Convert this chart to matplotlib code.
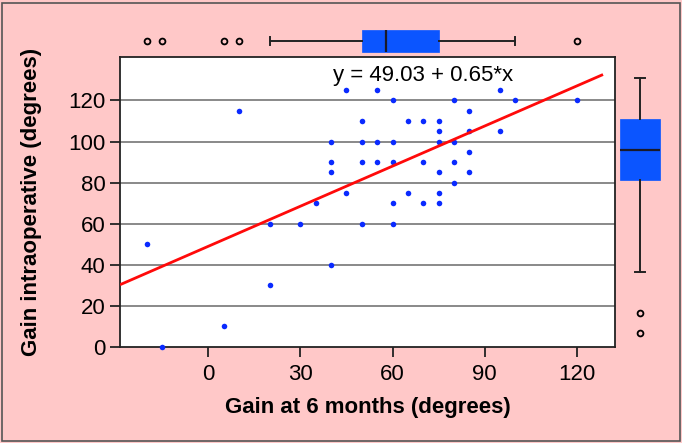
import matplotlib
matplotlib.use('Agg')
import matplotlib.pyplot as plt
from matplotlib.patches import Rectangle

# ---- data ----
x_6months = [-20, -15, 5, 10, 20, 20, 30, 35, 40, 40, 40, 40, 45, 45, 50, 50, 50, 50,
             55, 55, 55, 60, 60, 60, 60, 60, 65, 65, 70, 70, 70, 75, 75, 75, 75, 75, 75,
             80, 80, 80, 80, 85, 85, 85, 85, 95, 95, 100, 120]
y_intraop = [50, 0, 10, 115, 60, 30, 60, 70, 100, 90, 85, 40, 125, 75, 110, 100, 90, 60,
             125, 100, 90, 120, 100, 90, 70, 60, 110, 75, 110, 90, 70, 110, 105, 100, 85, 75, 70,
             120, 100, 90, 80, 115, 105, 95, 85, 125, 105, 120, 120]
intercept = 49.03
slope = 0.65
x_ticks = [0, 30, 60, 90, 120]
y_ticks = [0, 20, 40, 60, 80, 100, 120]

# box-plot statistics as drawn in the margins
top_box = dict(q1=50, med=58, q3=75, whislo=20, whishi=100, fliers=[-20, -15, 5, 10, 120])
right_box = dict(q1=75, med=90, q3=105, whislo=30, whishi=125, fliers=[10, 0])

# ---- style ----
plt.rcParams['font.family'] = ['Liberation Sans', 'DejaVu Sans']
PINK = '#FFC8C8'
BLUE_PT = '#0A2AFF'
BLUE_BOX = '#0B55FF'
DARK = '#222222'

W, H = 682, 443
fig = plt.figure(figsize=(W / 100, H / 100), dpi=100)
fig.patch.set_facecolor(PINK)
fig.patches.append(Rectangle((1.5 / W, 2.0 / H), (W - 3.5) / W, (H - 4.5) / H,
                             transform=fig.transFigure, fill=False,
                             edgecolor='#555555', linewidth=1.2))

def px(l, t, r, b):
    return [l / W, 1 - b / H, (r - l) / W, (b - t) / H]

ax = fig.add_axes(px(120, 57.3, 615, 347))
ax.set_facecolor('white')
xlim = (-28.8, 132.5)
ax.set_xlim(*xlim)
ax.set_ylim(0, 141)
for yt in y_ticks[1:]:
    ax.axhline(yt, color='#808080', linewidth=1.3, zorder=1)
ax.scatter(x_6months, y_intraop, s=16, color=BLUE_PT, zorder=3, linewidths=0, clip_on=False)
lx = [xlim[0], 128.6]
ax.plot(lx, [intercept + slope * v for v in lx], color='#FF0A0A', linewidth=2, zorder=4,
        solid_capstyle='butt')
ax.text(40.5, 132.3, 'y = 49.03 + 0.65*x', fontsize=16, ha='left', va='center', zorder=5)
ax.set_xticks(x_ticks)
ax.set_yticks(y_ticks)
ax.tick_params(axis='both', direction='out', length=7, width=1.3, color=DARK,
               labelsize=16, labelcolor='black')
ax.tick_params(axis='x', pad=5)
ax.tick_params(axis='y', pad=3.5)
for s in ax.spines.values():
    s.set_color(DARK)
    s.set_linewidth(1.3)
ax.set_xlabel('Gain at 6 months (degrees)', fontsize=16, fontweight='bold', va='top')
ax.xaxis.set_label_coords(0.5, -0.172)
ax.set_ylabel('Gain intraoperative (degrees)', fontsize=16, fontweight='bold')
ax.yaxis.set_label_coords(-0.158, 0.5)

box_kw = dict(patch_artist=True, showfliers=True,
              boxprops=dict(facecolor=BLUE_BOX, edgecolor=BLUE_BOX, linewidth=0.5),
              medianprops=dict(color='#1a1a2a', linewidth=1.6),
              whiskerprops=dict(color=DARK, linewidth=1.4),
              capprops=dict(color=DARK, linewidth=1.4),
              flierprops=dict(marker='o', markersize=4.2, markerfacecolor='none',
                              markeredgecolor='black', markeredgewidth=1.3))

# top marginal box plot (shares x scale)
axt = fig.add_axes(px(120, 20, 615, 57.3), sharex=ax)
axt.set_ylim(0, 1)
axt.bxp([top_box], positions=[0.437], widths=0.6, vert=False, capwidths=0.22, **box_kw)
axt.set_axis_off()

# right marginal box plot
axr = fig.add_axes(px(615, 57.3, 680, 347))
axr.set_xlim(0, 1)
axr.set_ylim(-6.7, 135.3)
axr.bxp([right_box], positions=[0.385], widths=0.615, vert=True, capwidths=0.14, **box_kw)
axr.set_axis_off()

ax.set_xlim(*xlim)
fig.savefig('out.png', dpi=100, facecolor=PINK)
